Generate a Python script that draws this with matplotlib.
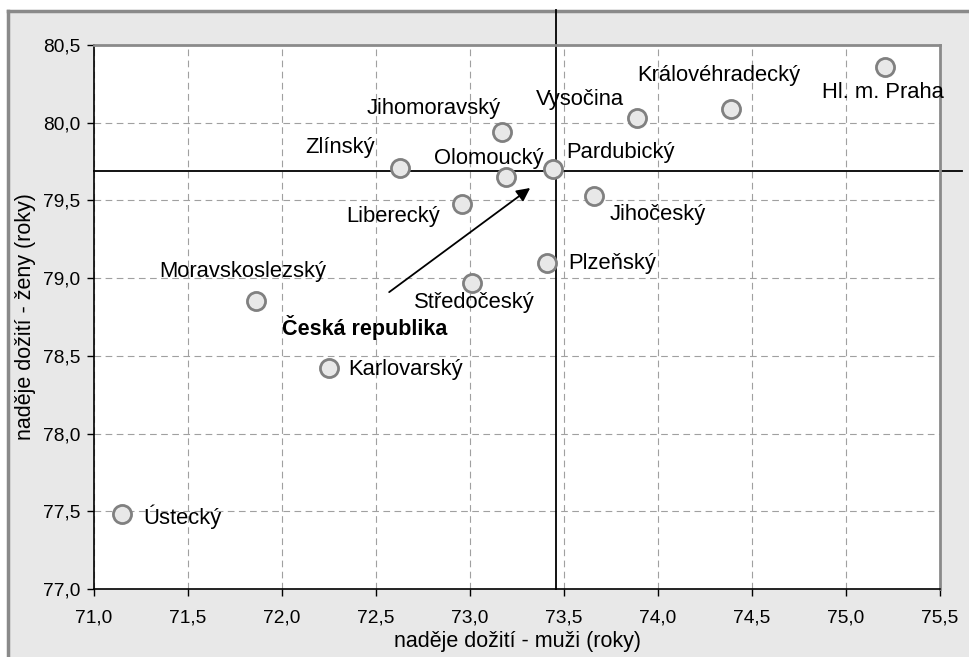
import matplotlib
matplotlib.use('Agg')
import matplotlib.pyplot as plt
from matplotlib.patches import Rectangle
from matplotlib.lines import Line2D

plt.rcParams['font.family'] = ['Liberation Sans', 'DejaVu Sans']

# regions: life expectancy men / women
regions = ['Hl. m. Praha', 'Královéhradecký', 'Vysočina', 'Jihomoravský', 'Zlínský',
           'Pardubický', 'Olomoucký', 'Liberecký', 'Jihočeský', 'Plzeňský',
           'Středočeský', 'Moravskoslezský', 'Karlovarský', 'Ústecký']
muzi = [75.21, 74.39, 73.89, 73.17, 72.63, 73.44, 73.19, 72.96, 73.66, 73.41,
        73.01, 71.86, 72.25, 71.15]
zeny = [80.36, 80.09, 80.03, 79.94, 79.71, 79.70, 79.65, 79.48, 79.53, 79.10,
        78.97, 78.85, 78.42, 77.48]
cr_muzi = 73.46
cr_zeny = 79.69

# label offsets in pixels (dx, dy) from the marker to the left edge / middle of the text
label_pos = {
    'Hl. m. Praha': (-63, -26),
    'Královéhradecký': (-94, 33),
    'Vysočina': (-101, 19),
    'Jihomoravský': (-135, 24),
    'Zlínský': (-95, 20),
    'Pardubický': (14, 17),
    'Olomoucký': (-72, 19),
    'Liberecký': (-116, -13),
    'Jihočeský': (16, -19),
    'Plzeňský': (21, -1),
    'Středočeský': (-58, -20),
    'Moravskoslezský': (-96, 30),
    'Karlovarský': (19, -1),
    'Ústecký': (21, -2),
}

fig = plt.figure(figsize=(9.69, 6.57), dpi=100, facecolor='white')
W, H = 969, 657
fig.patches.append(Rectangle((7.5 / W, 0), 1, 1 - 10.5 / H, transform=fig.transFigure,
                             facecolor='#e8e8e8', edgecolor='none', zorder=-10))
fig.lines.append(Line2D([7.5 / W, 7.5 / W], [0, 1 - 10.5 / H], transform=fig.transFigure,
                        color='#8a8a8a', lw=2.5, zorder=-5))
fig.lines.append(Line2D([7.5 / W, 1], [1 - 10.5 / H, 1 - 10.5 / H], transform=fig.transFigure,
                        color='#8a8a8a', lw=2.5, zorder=-5))

ax = fig.add_axes([94 / W, 1 - 589 / H, 846 / W, 544 / H])
ax.set_facecolor('white')
ax.set_xlim(71.0, 75.5)
ax.set_ylim(77.0, 80.5)
xt = [71.0 + 0.5 * i for i in range(10)]
yt = [77.0 + 0.5 * i for i in range(8)]
ax.set_xticks(xt)
ax.set_yticks(yt)
ax.set_xticklabels([f'{v:.1f}'.replace('.', ',') for v in xt], fontsize=13.8)
ax.set_yticklabels([f'{v:.1f}'.replace('.', ',') for v in yt], fontsize=13.8)
ax.tick_params(direction='out', length=5, width=1, color='black')
ax.tick_params(axis='x', pad=10)
ax.tick_params(axis='y', pad=5)
ax.grid(True, color='#a0a0a0', linestyle=(0, (6, 4)), lw=0.8)
ax.set_axisbelow(True)
for s in ['top', 'right']:
    ax.spines[s].set_color('#8a8a8a')
    ax.spines[s].set_linewidth(2)
for s in ['left', 'bottom']:
    ax.spines[s].set_color('black')
    ax.spines[s].set_linewidth(1.2)

ax.set_xlabel('naděje dožití - muži (roky)', fontsize=15.5, labelpad=3)
ax.set_ylabel('naděje dožití - ženy (roky)', fontsize=15.5, labelpad=5)

# Czech republic cross lines
ax.plot([71.0, 75.617], [cr_zeny, cr_zeny], color='black', lw=1.3, clip_on=False, zorder=2)
ax.plot([cr_muzi, cr_muzi], [77.0, 80.725], color='black', lw=1.3, clip_on=False, zorder=2)

ax.scatter(muzi, zeny, s=170, facecolor='#e8e8e8', edgecolor='#808080', linewidth=2, zorder=3)

for name, x, y in zip(regions, muzi, zeny):
    dx, dy = label_pos[name]
    ax.annotate(name, (x, y), xytext=(dx * 0.72, dy * 0.72), textcoords='offset points',
                ha='left', va='center', fontsize=15.8)

ax.annotate('', xy=(73.32, 79.58), xytext=(72.57, 78.91),
            arrowprops=dict(arrowstyle='-|>', color='black', lw=1.3, mutation_scale=20,
                            shrinkA=0, shrinkB=0))
ax.text(72.0, 78.685, 'Česká republika', fontsize=15.5, fontweight='bold',
        ha='left', va='center')

fig.savefig('out.png', dpi=100, facecolor='white')
